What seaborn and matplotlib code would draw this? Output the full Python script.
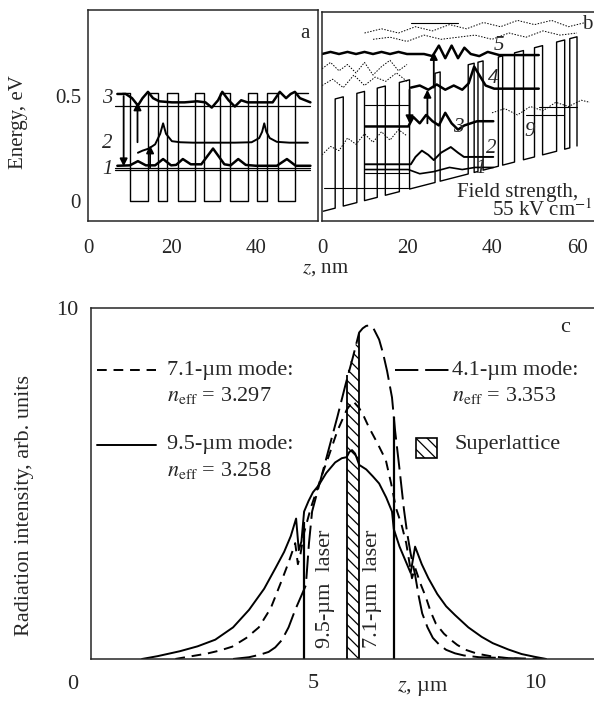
import matplotlib
matplotlib.use("Agg")
import matplotlib.pyplot as plt
import seaborn as sns

# ---------------- data ----------------
# panel a: superlattice, no field (nm, eV)
a_barriers = [(14.3, 16.7), (18.8, 21.4), (25.5, 27.6), (31.4, 33.8),
              (38.1, 40.2), (42.6, 45.2), (49.3, 52.5)]
a_barrier_height = 0.515
a_levels = [0.452, 0.159, 0.148]

a_psi3_x = [7, 9, 10.5, 11.9, 13, 14.3, 15.5, 17, 20, 23, 26, 28, 29.5, 31, 32, 33.5,
            35, 36.5, 38, 41, 44, 45.7, 47.2, 48.3, 49.3, 50.5, 53]
a_psi3_y = [0.51, 0.51, 0.49, 0.455, 0.49, 0.52, 0.49, 0.475, 0.47, 0.47, 0.475, 0.47,
            0.445, 0.48, 0.52, 0.48, 0.45, 0.48, 0.47, 0.47, 0.47, 0.52, 0.49, 0.51,
            0.52, 0.49, 0.47]
a_psi2_x = [11.9, 13, 14.5, 16, 17.2, 17.9, 18.6, 20, 22, 25, 30, 35, 39, 40.8, 41.5,
            42, 42.5, 43.3, 45, 48, 52.4]
a_psi2_y = [0.23, 0.24, 0.25, 0.27, 0.32, 0.37, 0.32, 0.285, 0.28, 0.278, 0.278, 0.278,
            0.28, 0.3, 0.33, 0.37, 0.33, 0.3, 0.282, 0.278, 0.278]
a_psi1_x = [7, 10, 11.9, 13.8, 16, 17.9, 19.8, 21, 22.6, 24.5, 27, 29.8, 32.5, 34, 35.8,
            37.6, 40, 45, 47.4, 49.5, 53]
a_psi1_y = [0.168, 0.17, 0.19, 0.17, 0.17, 0.2, 0.17, 0.172, 0.2, 0.175, 0.175, 0.25,
            0.175, 0.17, 0.2, 0.172, 0.168, 0.168, 0.2, 0.168, 0.168]
a_arrows = [(8.5, 0.50, 0.165), (11.8, 0.28, 0.47), (14.8, 0.16, 0.265)]
a_labels = [("3", 0.49), ("2", 0.276), ("1", 0.15)]

# panel b: same structure under 55 kV/cm
b_barriers = [(3.1, 5.0), (8.2, 10.0), (13.0, 14.9), (18.2, 20.6), (26.6, 27.8),
              (34.4, 35.8), (36.7, 37.9), (41.5, 42.5), (45.3, 47.4), (50.0, 51.9),
              (55.2, 57.1), (58.3, 60.0)]
b_well_bottom0 = -0.05
b_field_slope = 0.0052
b_barrier_height = 0.52

b_psi5_x = [0, 2, 4, 6, 8, 10, 12, 14, 16, 18, 20, 22, 24, 26, 27.5, 29, 30.5, 32,
            33.5, 35, 37, 39, 41.7, 51]
b_psi5_y = [0.70, 0.71, 0.70, 0.71, 0.70, 0.71, 0.70, 0.71, 0.70, 0.71, 0.70, 0.70,
            0.70, 0.69, 0.74, 0.68, 0.74, 0.68, 0.73, 0.70, 0.69, 0.71, 0.695, 0.695]
b_psi4_x = [20.9, 23, 25, 27, 29, 31, 33, 34.5, 35.8, 37, 38.5, 40.5, 45, 51]
b_psi4_y = [0.54, 0.55, 0.53, 0.555, 0.53, 0.55, 0.53, 0.56, 0.64, 0.60, 0.55, 0.535,
            0.535, 0.535]
b_psi3_x = [10.2, 14, 17, 20.3, 21.5, 23, 24.5, 26, 27.5, 29, 30.5, 32, 33.5, 35,
            36.5, 38, 40.3]
b_psi3_y = [0.355, 0.355, 0.355, 0.355, 0.40, 0.37, 0.41, 0.38, 0.36, 0.42, 0.37,
            0.34, 0.36, 0.37, 0.38, 0.38, 0.38]
b_psi2_x = [10.2, 15, 20.9, 22, 23.5, 25, 26.3, 28, 30.3, 32, 33.4, 36, 40.3]
b_psi2_y = [0.175, 0.175, 0.175, 0.21, 0.24, 0.22, 0.195, 0.23, 0.257, 0.23, 0.21,
            0.21, 0.21]
b_psi1_x = [10.2, 20.3, 23, 26.3, 30, 33, 36, 40.3]
b_psi1_y = [0.15, 0.15, 0.13, 0.14, 0.16, 0.15, 0.16, 0.16]

b_dotted = [
    ([10, 14, 18, 22, 26, 30, 34, 38, 42, 46, 50, 54, 58, 62],
     [0.80, 0.82, 0.80, 0.83, 0.81, 0.84, 0.82, 0.85, 0.83, 0.86, 0.84, 0.86, 0.83, 0.85]),
    ([12, 16, 20, 24, 28, 32, 36, 40, 44, 48, 52, 56, 60],
     [0.77, 0.78, 0.76, 0.79, 0.77, 0.78, 0.79, 0.77, 0.80, 0.78, 0.81, 0.79, 0.80]),
    ([0, 2, 4, 6, 8, 10, 12, 14, 16, 18, 20],
     [0.63, 0.66, 0.62, 0.65, 0.61, 0.66, 0.60, 0.64, 0.67, 0.62, 0.65]),
    ([0, 2.5, 5, 7.5, 10, 12.5, 15, 17.5, 20],
     [0.55, 0.58, 0.54, 0.60, 0.55, 0.59, 0.57, 0.61, 0.57]),
    ([0, 2, 4, 6, 8, 10, 12, 14, 16, 18, 20],
     [0.22, 0.26, 0.24, 0.30, 0.27, 0.32, 0.28, 0.33, 0.29, 0.34, 0.31]),
    ([40, 43, 46, 49, 52, 55, 58, 61, 63],
     [0.42, 0.44, 0.41, 0.45, 0.43, 0.47, 0.45, 0.48, 0.47]),
]
# thin level segments: (x0, x1, E)
b_levels = [(10.2, 20.3, 0.457), (10.2, 20.3, 0.133), (0.5, 20.3, 0.06),
            (48.0, 57.0, 0.41), (51.0, 60.0, 0.448), (21.0, 32.0, 0.85)]
b_arrows = [(20.6, 0.53, 0.37), (24.8, 0.37, 0.53), (26.3, 0.54, 0.71)]
b_labels = [("5", 41.7, 0.74), ("4", 40.3, 0.585), ("3", 32.0, 0.35),
            ("2", 39.8, 0.25), ("1", 37.4, 0.155), ("9", 48.8, 0.33)]

# panel c: mode intensity profiles (um, arb. units)
mode95_x = [1.15, 1.5, 2.0, 2.4, 2.8, 3.2, 3.56, 3.9, 4.16, 4.35, 4.5, 4.62, 4.68,
            4.74, 4.8, 4.9, 5.0, 5.13, 5.3, 5.5, 5.65, 5.76, 5.82, 5.88, 5.95, 6.04,
            6.2, 6.35, 6.49, 6.65, 6.78, 6.82, 6.95, 7.1, 7.2, 7.3, 7.45, 7.6, 7.8,
            8.0, 8.2, 8.5, 8.8, 9.05, 9.4, 9.7, 10.0, 10.25]
mode95_y = [0.0, 0.08, 0.22, 0.36, 0.55, 0.9, 1.4, 2.0, 2.6, 3.05, 3.5, 4.0, 3.1,
            3.35, 4.2, 4.5, 4.75, 4.95, 5.3, 5.6, 5.72, 5.75, 5.9, 5.95, 5.85, 5.53,
            5.4, 5.2, 5.0, 4.6, 4.2, 3.7, 3.2, 2.75, 2.45, 3.2, 2.7, 2.3, 1.85,
            1.5, 1.25, 0.9, 0.63, 0.45, 0.27, 0.14, 0.06, 0.0]
mode71_x = [1.9, 2.27, 2.6, 2.9, 3.18, 3.5, 3.78, 4.05, 4.3, 4.45, 4.6, 4.66, 4.72,
            4.8, 4.95, 5.15, 5.36, 5.55, 5.76, 5.9, 6.04, 6.15, 6.26, 6.45, 6.64,
            6.76, 6.87, 7.0, 7.1, 7.23, 7.3, 7.42, 7.54, 7.65, 7.77, 7.95, 8.1,
            8.25, 8.44, 8.7, 9.0, 9.35, 9.7]
mode71_y = [0.0, 0.08, 0.15, 0.24, 0.35, 0.6, 0.9, 1.45, 2.25, 2.75, 3.3, 2.7, 3.0,
            3.6, 4.3, 5.05, 5.8, 6.5, 7.1, 7.35, 7.15, 6.9, 6.6, 6.15, 5.67,
            5.0, 4.3, 3.8, 3.3, 2.3, 2.6, 2.15, 1.77, 1.35, 1.0, 0.72, 0.55,
            0.4, 0.26, 0.15, 0.08, 0.03, 0.0]
mode41_x = [3.2, 3.56, 3.8, 4.0, 4.15, 4.3, 4.45, 4.6, 4.72, 4.84, 4.91, 4.98, 5.17,
            5.36, 5.55, 5.74, 5.9, 6.04, 6.12, 6.2, 6.26, 6.35, 6.49, 6.58, 6.67,
            6.78, 6.85, 6.95, 7.05, 7.12, 7.2, 7.3, 7.38, 7.46, 7.58, 7.7, 7.85,
            8.0, 8.2, 8.4, 8.74, 9.5, 10.25]
mode41_y = [0.0, 0.05, 0.12, 0.2, 0.33, 0.54, 0.9, 1.4, 1.75, 2.1, 3.3, 4.2, 5.1,
            6.0, 6.9, 7.85, 8.6, 9.3, 9.42, 9.49, 9.5, 9.45, 9.1, 8.7, 8.2,
            7.45, 6.5, 5.4, 4.25, 3.6, 3.0, 2.4, 1.8, 1.3, 0.9, 0.6, 0.4,
            0.26, 0.16, 0.1, 0.05, 0.02, 0.0]

layer_x = [4.80, 6.82]          # laser layer boundaries
layer_top = [3.9, 6.9]
sl_x = [5.76, 6.04]             # superlattice
sl_top = [8.1, 9.3]

# ---------------- style ----------------
sns.set_theme(style="white")
plt.rcParams["font.family"] = ["Liberation Serif", "DejaVu Serif"]
plt.rcParams["mathtext.fontset"] = "stix"
plt.rcParams["font.size"] = 15
plt.rcParams["axes.linewidth"] = 1.1
plt.rcParams["hatch.linewidth"] = 0.9
plt.rcParams["hatch.color"] = "black"
FS = 15      # panels a, b
FSC = 16     # panel c


def curve(ax, x, y, lw=1.2, ls="-"):
    sns.lineplot(x=x, y=y, ax=ax, sort=False, estimator=None, color="black",
                 lw=lw, linestyle=ls)


def arrow(ax, x, y0, y1):
    ax.annotate("", xy=(x, y1), xytext=(x, y0),
                arrowprops=dict(arrowstyle="-|>", lw=1.3, color="black",
                                mutation_scale=11, shrinkA=0, shrinkB=0))


fig = plt.figure(figsize=(5.94, 7.02), dpi=100)
axa = fig.add_axes([0.1481, 0.6852, 0.3872, 0.3006])
axb = fig.add_axes([0.5421, 0.6852, 0.4579, 0.2977])
axc = fig.add_axes([0.1532, 0.0613, 0.8468, 0.5])

# ---------------- panel a ----------------
px = [8, 10, 10]
py = [a_barrier_height, a_barrier_height, 0]
for l, r in a_barriers:
    px += [l, l, r, r]
    py += [0, a_barrier_height, a_barrier_height, 0]
px, py = px[:-1], py[:-1]
curve(axa, px, py, lw=1.0)
for e in a_levels:
    curve(axa, [6.4, 52.9], [e, e], lw=0.9)
curve(axa, a_psi3_x, a_psi3_y, lw=1.8)
curve(axa, a_psi2_x, a_psi2_y, lw=1.4)
curve(axa, a_psi1_x, a_psi1_y, lw=1.8)
for x, y0, y1 in a_arrows:
    arrow(axa, x, y0, y1)
for t, y in a_labels:
    axa.text(4.6, y, t, style="italic", fontsize=FS, ha="center", va="center")
axa.text(51.7, 0.80, "a", fontsize=FS, ha="center", va="center")

axa.set_xlim(0, 54.8)
axa.set_ylim(-0.095, 0.91)
axa.set_xticks([0, 20, 40])
axa.set_xticklabels(["0", "20", "40"])
axa.set_yticks([0, 0.5])
axa.set_yticklabels(["0", "0.5"])
axa.tick_params(axis="x", direction="in", length=7, width=1.1, pad=13, labelsize=FS)
axa.tick_params(axis="y", direction="in", length=7, width=1.1, pad=5, labelsize=FS)
axa.set_xlabel("")
axa.set_ylabel("Energy, eV", fontsize=FS)
axa.yaxis.set_label_coords(-0.26, 0.47)

# ---------------- panel b ----------------
def well(z):
    return b_well_bottom0 + b_field_slope * z


px, py = [0.3], [well(0.3)]
for l, r in b_barriers:
    px += [l, l, r, r]
    py += [well(l), well(l) + b_barrier_height, well(r) + b_barrier_height, well(r)]
curve(axb, px, py, lw=1.0)
for xs, ys in b_dotted:
    curve(axb, xs, ys, lw=0.7, ls=(0, (1.5, 1.5)))
for x0, x1, e in b_levels:
    curve(axb, [x0, x1], [e, e], lw=0.8)
curve(axb, b_psi5_x, b_psi5_y, lw=1.8)
curve(axb, b_psi4_x, b_psi4_y, lw=1.8)
curve(axb, b_psi3_x, b_psi3_y, lw=1.8)
curve(axb, b_psi2_x, b_psi2_y, lw=1.4)
curve(axb, b_psi1_x, b_psi1_y, lw=1.2)
for x, y0, y1 in b_arrows:
    arrow(axb, x, y0, y1)
for t, x, y in b_labels:
    axb.text(x, y, t, style="italic", fontsize=FS, ha="center", va="center")
axb.text(62.3, 0.84, "b", fontsize=FS, ha="center", va="center")
axb.text(46.0, 0.043, "Field strength,", fontsize=FS, ha="center", va="center")
axb.text(51.8, -0.043, "55 kV cm$^{-1}$", fontsize=FS, ha="center", va="center")

axb.set_xlim(0, 64)
axb.set_ylim(-0.095, 0.90)
axb.set_xticks([0, 20, 40, 60])
axb.set_xticklabels(["0", "20", "40", "60"])
axb.set_yticks([])
axb.tick_params(axis="x", direction="in", length=7, width=1.1, pad=13, labelsize=FS)
axb.spines["right"].set_visible(False)
axb.set_xlabel("")
axb.set_ylabel("")

fig.text(325 / 594, 1 - 268 / 702, "$z$, nm", fontsize=FS, ha="center", va="center")

# ---------------- panel c ----------------
axc.fill_between(sl_x, [0, 0], sl_top, facecolor="white", edgecolor="black",
                 hatch="\\\\\\", lw=0)
axc.vlines(sl_x, [0, 0], sl_top, color="black", lw=1.3)
axc.vlines(layer_x, [0, 0], layer_top, color="black", lw=1.6)

curve(axc, mode95_x, mode95_y, lw=1.4)
curve(axc, mode71_x, mode71_y, lw=1.4, ls=(0, (5, 3.5)))
curve(axc, mode41_x, mode41_y, lw=1.4, ls=(0, (12, 3.5)))

axc.text(5.29, 0.3, "9.5-µm  laser", rotation=90, fontsize=FSC, ha="center", va="bottom")
axc.text(6.33, 0.3, "7.1-µm  laser", rotation=90, fontsize=FSC, ha="center", va="bottom")

# legend drawn in axes fractions
tr = axc.transAxes
axc.plot([0.012, 0.129], [0.823, 0.823], transform=tr, color="black", lw=1.4,
         linestyle=(0, (5, 3.5)))
axc.text(0.151, 0.823, "7.1-µm mode:", transform=tr, fontsize=FSC, va="center")
axc.text(0.151, 0.752, r"$n_{\mathrm{eff}}$ = 3.297", transform=tr, fontsize=FSC, va="center")
axc.plot([0.012, 0.129], [0.61, 0.61], transform=tr, color="black", lw=1.4)
axc.text(0.151, 0.61, "9.5-µm mode:", transform=tr, fontsize=FSC, va="center")
axc.text(0.151, 0.538, r"$n_{\mathrm{eff}}$ = 3.258", transform=tr, fontsize=FSC, va="center")
axc.plot([0.604, 0.716], [0.823, 0.823], transform=tr, color="black", lw=1.4,
         linestyle=(0, (12, 3.5)))
axc.text(0.718, 0.823, "4.1-µm mode:", transform=tr, fontsize=FSC, va="center")
axc.text(0.718, 0.752, r"$n_{\mathrm{eff}}$ = 3.353", transform=tr, fontsize=FSC, va="center")
axc.add_patch(plt.Rectangle((0.646, 0.573), 0.042, 0.057, transform=tr,
                            facecolor="white", edgecolor="black", lw=1.2, hatch="\\\\\\"))
axc.text(0.722, 0.61, "Superlattice", transform=tr, fontsize=FSC, va="center")
axc.text(0.942, 0.943, "c", transform=tr, fontsize=FSC, ha="center", va="center")

axc.set_xlim(0, 11.33)
axc.set_ylim(0, 10)
axc.set_xticks([5, 10])
axc.set_xticklabels(["5", "10"])
axc.set_yticks([10])
axc.set_yticklabels(["10"])
axc.tick_params(axis="x", direction="in", length=8, width=1.1, pad=11, labelsize=FSC)
axc.tick_params(axis="y", direction="in", length=0, pad=9, labelsize=FSC)
axc.spines["right"].set_visible(False)
axc.text(-0.036, -0.074, "0", transform=tr, fontsize=FSC, ha="center", va="center")
axc.set_xlabel("$z$, µm", fontsize=FSC, va="center")
axc.xaxis.set_label_coords(0.66, -0.083)
axc.set_ylabel("Radiation intensity, arb. units", fontsize=FSC)
axc.yaxis.set_label_coords(-0.113, 0.436)

fig.savefig("out.png", dpi=100)
